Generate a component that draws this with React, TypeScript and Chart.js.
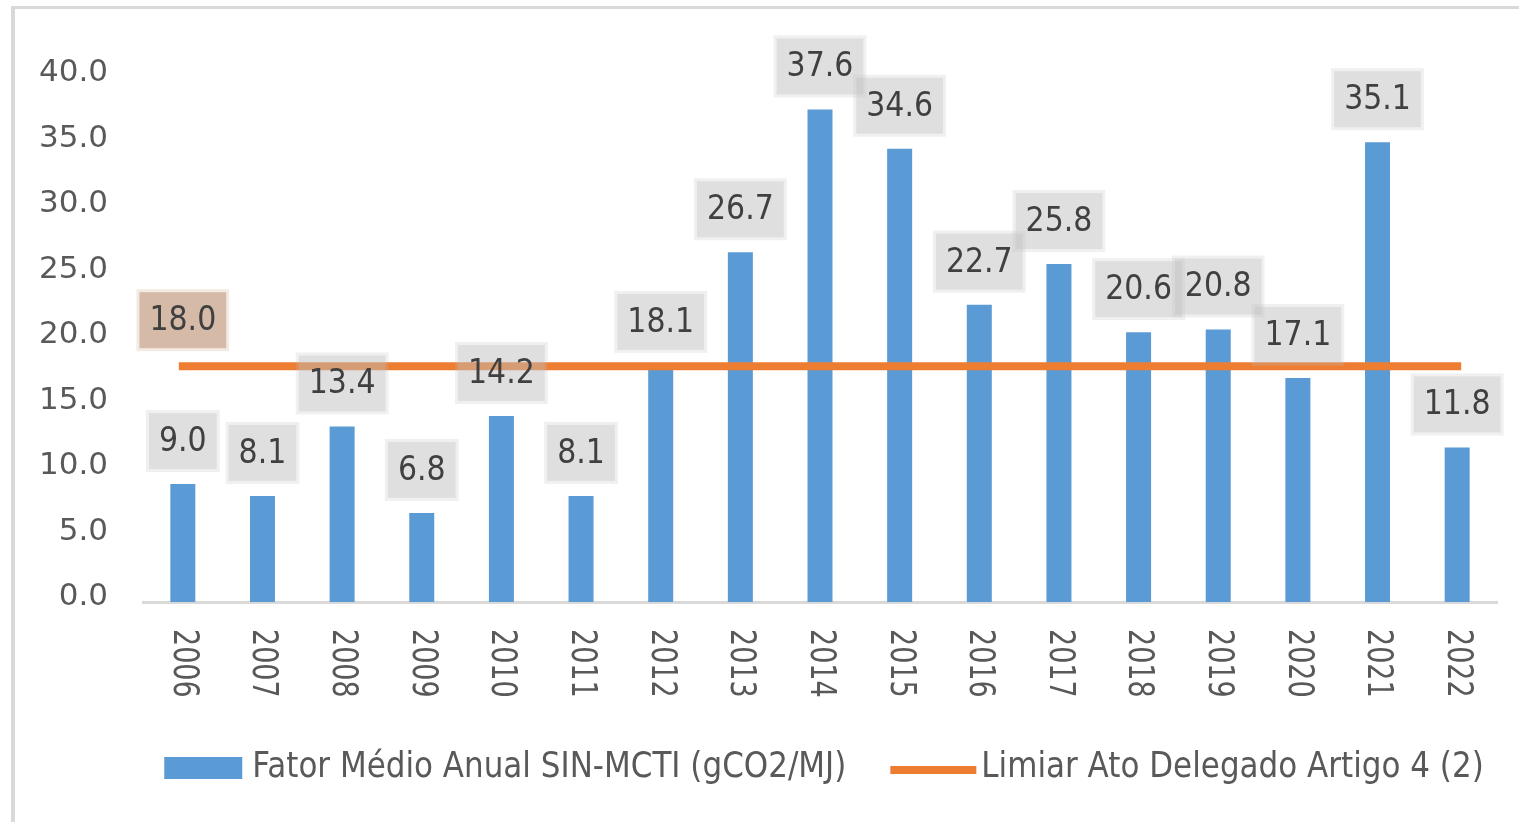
import React, { useEffect, useRef } from 'react';
import { Chart, registerables } from 'chart.js';

Chart.register(...registerables);

const years = ['2006', '2007', '2008', '2009', '2010', '2011', '2012', '2013', '2014', '2015', '2016', '2017', '2018', '2019', '2020', '2021', '2022'];
const fatorValues = [9.0, 8.1, 13.4, 6.8, 14.2, 8.1, 18.1, 26.7, 37.6, 34.6, 22.7, 25.8, 20.6, 20.8, 17.1, 35.1, 11.8];
const limiarValues = [18.0, 18.0, 18.0, 18.0, 18.0, 18.0, 18.0, 18.0, 18.0, 18.0, 18.0, 18.0, 18.0, 18.0, 18.0, 18.0, 18.0];
const limiarLabelIndexes = [0];
const seriesNames = ['Fator Médio Anual SIN-MCTI (gCO2/MJ)', 'Limiar Ato Delegado Artigo 4 (2)'];

const BLUE = '#5B9BD5';
const ORANGE = '#ED7D31';
const TEXT = '#595959';
const LABEL_TEXT = '#404040';
const FAMILY = '"DejaVu Sans", sans-serif';

function drawBox(ctx: CanvasRenderingContext2D, cx: number, bottom: number, text: string, ring: string, fill: string) {
  ctx.save();
  ctx.font = `30px ${FAMILY}`;
  const tw = ctx.measureText(text).width;
  const w = tw + 26;
  const h = 62;
  const left = cx - w / 2;
  const top = bottom - h;
  ctx.fillStyle = ring;
  ctx.fillRect(left, top, w, h);
  ctx.fillStyle = fill;
  ctx.fillRect(left + 3, top + 3, w - 6, h - 6);
  ctx.fillStyle = LABEL_TEXT;
  ctx.textAlign = 'center';
  ctx.textBaseline = 'middle';
  ctx.translate(cx, top + h / 2 + 1);
  ctx.scale(1, 1.14);
  ctx.fillText(text, 0, 0);
  ctx.restore();
}

const dataLabelPlugin = {
  id: 'dataLabelBoxes',
  afterDatasetsDraw(chart: any) {
    const ctx = chart.ctx as CanvasRenderingContext2D;
    const barMeta = chart.getDatasetMeta(0);
    barMeta.data.forEach((el: any, i: number) => {
      drawBox(ctx, el.x, el.y - 12, fatorValues[i].toFixed(1), 'rgba(190,190,190,0.23)', 'rgba(190,190,190,0.32)');
    });
    const lineMeta = chart.getDatasetMeta(1);
    limiarLabelIndexes.forEach((i) => {
      const el = lineMeta.data[i];
      drawBox(ctx, el.x, el.y - 15, limiarValues[i].toFixed(1), 'rgb(243,234,228)', 'rgb(213,186,168)');
    });
  },
};

const xLabelPlugin = {
  id: 'rotatedXLabels',
  afterDraw(chart: any) {
    const ctx = chart.ctx as CanvasRenderingContext2D;
    const xScale = chart.scales.x;
    const top = chart.chartArea.bottom + 27;
    ctx.save();
    ctx.font = `27px ${FAMILY}`;
    ctx.fillStyle = TEXT;
    ctx.textAlign = 'left';
    ctx.textBaseline = 'middle';
    years.forEach((label, i) => {
      const x = xScale.getPixelForValue(i);
      ctx.save();
      ctx.translate(x, top);
      ctx.scale(1.3, 1);
      ctx.rotate(Math.PI / 2);
      ctx.fillText(label, 0, 0);
      ctx.restore();
    });
    ctx.restore();
  },
};

const legendPlugin = {
  id: 'customLegend',
  afterDraw(chart: any) {
    const ctx = chart.ctx as CanvasRenderingContext2D;
    const area = chart.chartArea;
    ctx.save();
    ctx.font = `31px ${FAMILY}`;
    const t1 = ctx.measureText(seriesNames[0]).width;
    const t2 = ctx.measureText(seriesNames[1]).width;
    const boxW = 78;
    const lineW = 86;
    const total = boxW + 10 + t1 + 44 + lineW + 5 + t2;
    let x = (area.left + area.right) / 2 - total / 2 + 4;
    const baseline = area.bottom + 175;
    ctx.fillStyle = BLUE;
    ctx.fillRect(x, baseline - 20, boxW, 22);
    x += boxW + 10;
    ctx.fillStyle = TEXT;
    ctx.textAlign = 'left';
    ctx.textBaseline = 'alphabetic';
    ctx.save();
    ctx.translate(x, baseline);
    ctx.scale(1, 1.14);
    ctx.fillText(seriesNames[0], 0, 0);
    ctx.restore();
    x += t1 + 44;
    ctx.fillStyle = ORANGE;
    ctx.fillRect(x, baseline - 11, lineW, 8);
    x += lineW + 5;
    ctx.fillStyle = TEXT;
    ctx.save();
    ctx.translate(x, baseline);
    ctx.scale(1, 1.14);
    ctx.fillText(seriesNames[1], 0, 0);
    ctx.restore();
    ctx.restore();
  },
};

export default function App() {
  const canvasRef = useRef<HTMLCanvasElement | null>(null);

  useEffect(() => {
    if (!canvasRef.current) return;
    const chart = new Chart(canvasRef.current, {
      type: 'bar',
      data: {
        labels: years,
        datasets: [
          {
            type: 'bar',
            label: seriesNames[0],
            data: fatorValues,
            backgroundColor: BLUE,
            barPercentage: 0.314,
            categoryPercentage: 1,
            order: 1,
          },
          {
            type: 'line',
            label: seriesNames[1],
            data: limiarValues,
            borderColor: ORANGE,
            backgroundColor: ORANGE,
            borderWidth: 8,
            borderCapStyle: 'square',
            pointRadius: 0,
            tension: 0,
            fill: false,
            order: 0,
          },
        ] as any,
      },
      options: {
        responsive: false,
        animation: false,
        layout: { padding: { top: 78, right: 22, bottom: 220, left: 0 } },
        plugins: {
          legend: { display: false },
          tooltip: { enabled: false },
        },
        scales: {
          x: {
            grid: { display: false },
            border: { display: true, color: '#D9D9D9', width: 3 },
            ticks: { display: false },
            afterFit: (s: any) => { s.height = 0; },
          },
          y: {
            min: 0,
            max: 40,
            grid: { display: false, drawTicks: false },
            border: { display: false },
            ticks: {
              stepSize: 5,
              padding: 35,
              labelOffset: -5,
              color: TEXT,
              font: { family: FAMILY, size: 31 },
              callback: (v: any) => Number(v).toFixed(1),
            },
            afterFit: (s: any) => { s.width = 143; },
          },
        },
      } as any,
      plugins: [dataLabelPlugin, xLabelPlugin, legendPlugin],
    });
    return () => chart.destroy();
  }, []);

  return (
    <div style={{ position: 'fixed', left: 0, top: 0, width: 1519, height: 822, background: '#ffffff', overflow: 'hidden' }}>
      <div
        style={{
          position: 'absolute',
          left: 11,
          top: 6,
          right: 0,
          bottom: 0,
          borderLeft: '4px solid #D9D9D9',
          borderTop: '3px solid #D9D9D9',
        }}
      />
      <canvas ref={canvasRef} width={1519} height={822} style={{ position: 'absolute', left: 0, top: 0, display: 'block' }} />
    </div>
  );
}
